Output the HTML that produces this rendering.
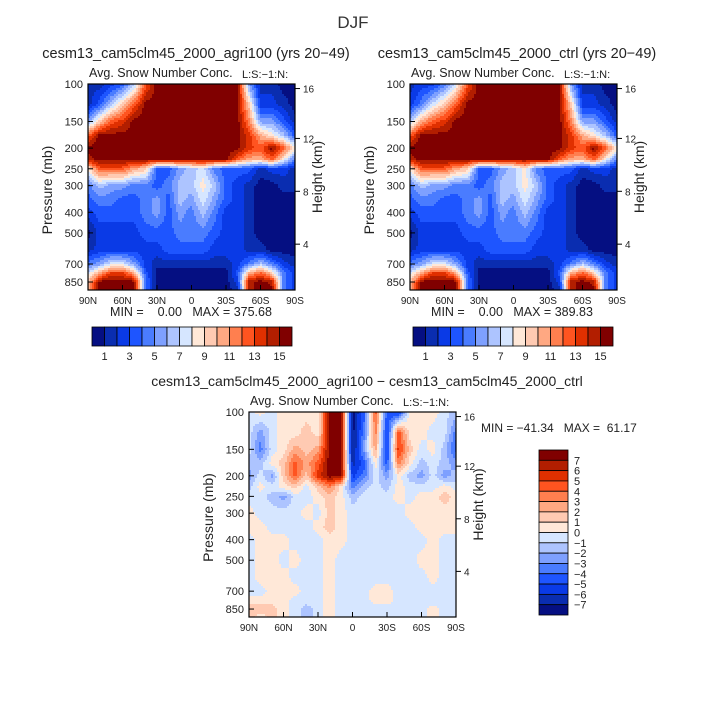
<!DOCTYPE html>
<html><head><meta charset="utf-8">
<style>
html,body{margin:0;padding:0;background:#fff;}
svg{display:block;font-family:"Liberation Sans","DejaVu Sans",sans-serif;}
text{white-space:pre;}
</style></head>
<body>
<svg id="fig" width="706" height="704" viewBox="0 0 706 704">
<text x="353" y="28" font-size="17" text-anchor="middle" fill="#333">DJF</text>
</svg>
<script>
const lats = [90,80,70,60,50,40,30,20,10,0,-10,-20,-30,-40,-50,-60,-70,-80,-90];
const levels = [100,125,150,175,200,225,250,300,350,400,500,600,700,775,850,925];
const pTicks = [100,150,200,250,300,400,500,700,850];
const hTicks = [16,12,8,4];
const latTickLabels = ["90N","60N","30N","0","30S","60S","90S"];
const latTickVals = [90,60,30,0,-30,-60,-90];
const absBarLabels = ["1","3","5","7","9","11","13","15"];
const diffBarLabels = ["7","6","5","4","3","2","1","0","\u22121","\u22122","\u22123","\u22124","\u22125","\u22126","\u22127"];
const palette = ["#050f82","#0a2db0","#0a3ae6","#1e55ff","#4a7cff","#7ea0ff","#adc4ff","#d6e6ff","#ffe8d8","#ffcab2","#ffa882","#ff7f4f","#ff5420","#e03000","#b21e00","#800000"];

const agriVals = [
[1,1,2,3,6,12,15,15,15,15,15,15,15,15,5,1,1,0,0],
[1,3,6,9,12,15,15,15,15,15,15,15,15,15,9,2,2,1,0],
[5,9,12,13,15,15,15,15,15,15,15,15,15,15,11,5,5,3,1],
[12,15,15,15,15,15,15,15,15,15,15,15,15,15,13,10,8,6,3],
[15,15,15,15,15,15,15,15,15,15,15,15,15,15,13,12,15,12,8],
[14,15,15,15,15,15,15,15,15,15,15,15,15,12,10,10,12,8,4],
[8,12,12,12,10,9,3,3,5,6,7,4,3,3,3,1,2,2,1],
[4,6,5,5,4,4,3,4,6,6,8,6,3,2,1,0,0,1,1],
[3,4,4,3,3,4,5,3,6,5,7,5,3,2,1,0,0,0,0],
[2,3,3,3,3,4,5,3,5,4,6,4,2,2,1,0,0,0,0],
[0,2,2,2,2,3,3,3,4,4,4,3,2,2,1,0,0,0,0],
[1,2,2,2,2,2,2,3,3,3,3,2,2,2,1,1,0,0,0],
[4,5,7,7,5,2,1,1,1,1,1,1,1,2,4,6,4,2,1],
[7,10,13,13,10,3,0,0,0,0,0,0,0,3,10,12,9,4,2],
[9,15,15,15,15,4,0,0,0,0,0,0,0,2,14,15,14,4,2],
[9,15,15,15,15,4,0,0,0,0,0,0,0,1,14,15,15,4,2]];
const ctrlVals = [
[1,2,2,4,7,12,15,15,15,15,15,15,15,15,5,1,1,0,0],
[2,4,7,9,12,15,15,15,15,15,15,15,15,15,9,2,2,1,0],
[6,10,12,13,15,15,15,15,15,15,15,15,15,15,11,5,5,3,1],
[12,15,15,15,15,15,15,15,15,15,15,15,15,15,13,10,8,6,3],
[15,15,15,15,15,15,15,15,15,15,15,15,15,15,13,12,15,12,8],
[14,15,15,15,15,15,15,15,15,15,15,15,15,12,10,10,12,8,4],
[8,12,12,12,10,9,3,3,5,6,8,4,3,3,3,1,2,2,1],
[4,6,5,5,4,4,3,4,6,6,8,6,3,2,1,0,0,1,1],
[3,4,4,3,3,4,5,3,6,5,7,5,3,2,1,0,0,0,0],
[2,3,3,3,3,4,5,3,5,4,6,4,2,2,1,0,0,0,0],
[0,2,2,2,2,3,3,3,4,4,4,3,2,2,1,0,0,0,0],
[1,2,2,2,2,2,2,3,3,3,3,2,2,2,1,1,0,0,0],
[4,5,7,7,5,2,1,1,1,1,1,1,1,2,4,6,4,2,1],
[7,10,13,13,10,3,0,0,0,0,0,0,0,3,10,12,9,4,2],
[9,15,15,15,15,4,0,0,0,0,0,0,0,2,14,15,14,4,2],
[9,15,15,15,15,4,0,0,0,0,0,0,0,1,14,15,15,4,2]];
const diffVals = [
[7,8,7,8,8,8,8,15,15,0,3,12,3,2,8,8,8,7,6],
[7,5,7,8,8,9,8,15,15,0,4,11,2,12,8,8,7,7,4],
[7,4,7,8,10,9,10,15,15,0,5,10,2,13,9,7,8,6,3],
[6,6,8,9,12,10,12,15,15,1,3,8,3,11,8,6,7,6,5],
[5,7,5,9,12,9,13,15,15,2,4,7,5,8,6,5,7,5,6],
[6,8,7,8,9,7,9,11,8,4,6,7,6,8,7,7,7,8,7],
[7,7,6,5,7,7,8,9,8,6,7,7,7,8,7,8,8,9,8],
[8,7,7,7,7,8,7,9,8,7,7,7,7,7,8,8,8,8,8],
[8,8,7,7,7,7,8,9,8,7,7,7,7,7,7,8,8,8,8],
[7,8,8,8,7,7,7,8,8,7,7,7,7,7,7,7,8,7,7],
[7,8,8,7,8,7,7,8,7,7,7,7,7,7,7,8,8,7,7],
[7,8,8,8,7,7,7,8,7,7,7,7,7,7,7,7,8,7,7],
[7,7,8,8,8,7,7,8,7,7,7,8,8,7,7,7,7,7,7],
[8,8,8,8,7,7,7,8,7,7,7,8,8,7,7,7,7,7,7],
[9,9,9,8,7,6,7,8,7,7,7,7,7,7,7,7,8,7,7],
[9,8,9,8,7,6,7,8,7,7,7,7,7,7,7,7,8,7,7]];

const NS="http://www.w3.org/2000/svg";
const svg=document.getElementById('fig');
function mk(tag,attrs,parent){const e=document.createElementNS(NS,tag);for(const k in attrs)e.setAttribute(k,attrs[k]);(parent||svg).appendChild(e);return e;}
function txt(s,x,y,size,anchor,parent){const t=mk('text',{x:x,y:y,'font-size':size,'text-anchor':anchor||'start',fill:'#222'},parent);t.textContent=s;return t;}

function sample(vals,lat,p){
  const lp=Math.log(p);
  let fc=(90-lat)/10; fc=Math.max(0,Math.min(lats.length-1,fc));
  let r=0; const L=levels.map(Math.log);
  let fr;
  if(lp<=L[0]) fr=0; else if(lp>=L[L.length-1]) fr=L.length-1;
  else { while(L[r+1]<lp) r++; fr=r+(lp-L[r])/(L[r+1]-L[r]); }
  const c0=Math.min(Math.floor(fc),lats.length-2), r0=Math.min(Math.floor(fr),levels.length-2);
  const tc=fc-c0, tr=fr-r0;
  const a=vals[r0][c0],b=vals[r0][c0+1],c=vals[r0+1][c0],d=vals[r0+1][c0+1];
  return (a*(1-tc)+b*tc)*(1-tr)+(c*(1-tc)+d*tc)*tr;
}

function drawPanel(x0,y0,w,h,vals,name){
  const g=mk('g',{});
  
  
  const xs=lat=>x0+(90-lat)/180*w;
  const lp0=Math.log(100), k=(198/206*h)/(Math.log(850)-lp0);
  const ys=p=>y0+(Math.log(p)-lp0)*k;
  const inv_x=x=>90-(x-x0)/w*180;
  const inv_y=y=>Math.exp(lp0+(y-y0)/k);
  const cells=mk('g',{'shape-rendering':'crispEdges'},g);
  const step=2;
  for(let y=y0;y<y0+h;y+=step){
    const p=inv_y(y+step/2);
    let runStart=x0, runIdx=null;
    for(let x=x0;x<x0+w+step;x+=step){
      let idx=null;
      if(x<x0+w){const v=sample(vals,inv_x(Math.min(x+step/2,x0+w)),p);idx=Math.max(0,Math.min(15,Math.round(v)));}
      if(idx!==runIdx){
        if(runIdx!==null){
          const rr=mk('rect',{x:runStart,y:y,width:Math.min(x,x0+w)-runStart,height:Math.min(step,y0+h-y),fill:palette[runIdx]},cells);
          
          
        }
        runStart=x;runIdx=idx;
      }
    }
  }
  mk('rect',{x:x0,y:y0,width:w,height:h,fill:'none',stroke:'#000','stroke-width':1.2},g);
  pTicks.forEach(p=>{const y=ys(p);mk('line',{x1:x0,x2:x0+5,y1:y,y2:y,stroke:'#000'},g);
    const t=txt(String(p),x0-5,y+4,11,'end',g);});
  hTicks.forEach(hk=>{const p=1000*Math.exp(-hk/7.0);const y=ys(p)+(hk==16?3:0);
    mk('line',{x1:x0+w,x2:x0+w+5,y1:y,y2:y,stroke:'#000'},g);
    const t=txt(String(hk),x0+w+8,y+4,10,'start',g);});
  latTickVals.forEach((lv,i)=>{const x=xs(lv);mk('line',{x1:x,x2:x,y1:y0+h,y2:y0+h-5,stroke:'#000'},g);
    const t=txt(latTickLabels[i],x,y0+h+14,10,'middle',g);});
  const yl=txt('Pressure (mb)',0,0,14,'middle',g);yl.setAttribute('transform',`translate(${x0-36},${y0+h/2+3}) rotate(-90)`);
  
  const yr=txt('Height (km)',0,0,14,'middle',g);yr.setAttribute('transform',`translate(${x0+w+27},${y0+h/2-10}) rotate(-90)`);
  
  const st=txt('Avg. Snow Number Conc.',x0+1,y0-7,12.5,'start',g);
  const ls=txt('L:S:\u22121:N:',x0+w-53,y0-6,11,'start',g);
}
function hbar(x0,y0,w,h,name){
  const g=mk('g',{});
  
  
  const bw=w/palette.length;
  palette.forEach((c,i)=>{const r=mk('rect',{x:x0+i*bw,y:y0,width:bw,height:h,fill:c,stroke:'#000','stroke-width':0.8},g);
    });
  absBarLabels.forEach((s,i)=>{const t=txt(s,x0+(2*i+1)*bw,y0+h+14,11,'middle',g);});
}
drawPanel(88,84,207,206,agriVals,'agri100-panel');
drawPanel(410,84,207,206,ctrlVals,'ctrl-panel');
drawPanel(249,412,207,205,diffVals,'diff-panel');
hbar(92,327,200,19,'agri100-colorbar');
hbar(413,327,200,19,'ctrl-colorbar');
(function(){
  const g=mk('g',{});
  
  
  const x0=539,y0=450,w=29,h=165,bh=h/palette.length;
  for(let i=0;i<palette.length;i++){const r=mk('rect',{x:x0,y:y0+i*bh,width:w,height:bh,fill:palette[palette.length-1-i],stroke:'#000','stroke-width':0.8},g);
    }
  diffBarLabels.forEach((s,i)=>{const t=txt(s,x0+w+6,y0+(i+1)*bh+4,11,'start',g);});
})();
function label(s,x,y,size,anchor,name){const t=txt(s,x,y,size,anchor);return t;}
label('cesm13_cam5clm45_2000_agri100 (yrs 20\u221249)',196,58,14.5,'middle','agri100-title');
label('cesm13_cam5clm45_2000_ctrl (yrs 20\u221249)',517,58,14.5,'middle','ctrl-title');
label('MIN =    0.00   MAX = 375.68',191,316,12.5,'middle','agri100-minmax');
label('MIN =    0.00   MAX = 389.83',512,316,12.5,'middle','ctrl-minmax');
label('cesm13_cam5clm45_2000_agri100 \u2212 cesm13_cam5clm45_2000_ctrl',367,386,14,'middle','diff-title');
label('MIN = \u221241.34   MAX =  61.17',481,432,12,'start','diff-minmax');
</script>
</body></html>
